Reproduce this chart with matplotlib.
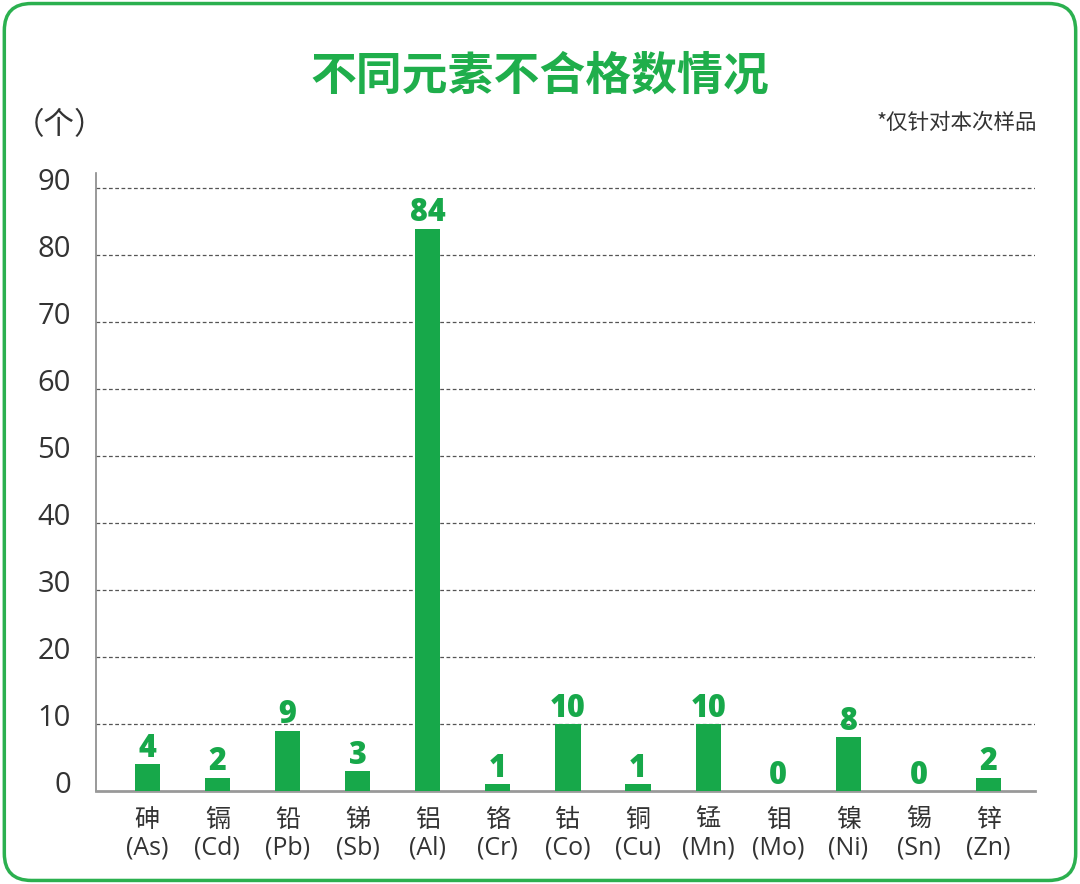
import matplotlib
matplotlib.use("Agg")
import matplotlib.pyplot as plt
from matplotlib.patches import FancyBboxPatch
from matplotlib.transforms import ScaledTranslation

plt.rcParams['font.family'] = ['Open Sans', 'Noto Sans CJK SC', 'DejaVu Sans']

elements = ["砷", "镉", "铅", "锑", "铝", "铬", "钴", "铜", "锰", "钼", "镍", "锡", "锌"]
symbols = ["As", "Cd", "Pb", "Sb", "Al", "Cr", "Co", "Cu", "Mn", "Mo", "Ni", "Sn", "Zn"]
counts = [4, 2, 9, 3, 84, 1, 10, 1, 10, 0, 8, 0, 2]
yticks = [0, 10, 20, 30, 40, 50, 60, 70, 80, 90]

title = "不同元素不合格数情况"
unit = "（个）"
note = "*仅针对本次样品"

GREEN = "#17a84a"
TXT = "#333333"

fig = plt.figure(figsize=(10.8, 8.84), dpi=100)
fig.patch.set_facecolor("white")

border = FancyBboxPatch((0.004, 0.004), 0.992, 0.992,
                        boxstyle="round,pad=0,rounding_size=0.025",
                        transform=fig.transFigure, fill=False,
                        edgecolor="#2bb04f", linewidth=2.5, mutation_aspect=1080/884)
fig.patches.append(border)

ax = fig.add_axes([96/1080, 1 - 791/884, (1035 - 96)/1080, (791 - 173)/884])
x = list(range(len(counts)))
ax.bar(x, counts, width=0.36, color=GREEN, zorder=3)
for xi, v in zip(x, counts):
    ax.text(xi, v - 0.1, str(v), ha="center", va="bottom", fontsize=22,
            fontweight=800, color=GREEN, family=["Open Sans"], zorder=4)

ax.set_xlim(-0.73, 12.66)
ax.set_ylim(0, 92.3)
ax.set_yticks(yticks)
ax.set_yticklabels([str(t) for t in yticks], fontsize=21, color=TXT)
ax.tick_params(axis="y", length=0, pad=18)
off = ScaledTranslation(0, 9/100, fig.dpi_scale_trans)
for lab in ax.get_yticklabels():
    lab.set_transform(lab.get_transform() + off)
ax.set_xticks(x)
ax.set_xticklabels([f"{e}\n({s})" for e, s in zip(elements, symbols)],
                   fontsize=18, color=TXT, linespacing=1.15)
ax.tick_params(axis="x", length=0, pad=12)

for t in yticks[1:]:
    ax.axhline(t, color="#555555", linewidth=0.9, linestyle=(0, (3, 2)), zorder=1)

for s in ["top", "right"]:
    ax.spines[s].set_visible(False)
ax.spines["left"].set_color("#888888")
ax.spines["left"].set_linewidth(1.2)
ax.spines["bottom"].set_color("#999999")
ax.spines["bottom"].set_linewidth(2)

fig.text(0.5, 1 - 76/884, title, ha="center", va="center", fontsize=33,
         fontweight="black", color="#1fae4b", family=["Noto Sans CJK SC"])
fig.text(14/1080, 1 - 126/884, unit, ha="left", va="center", fontsize=22, color=TXT,
         family=["Noto Sans CJK SC"])
fig.text(1037/1080, 1 - 123/884, note, ha="right", va="center", fontsize=15.5, color=TXT,
         family=["Noto Sans CJK SC"])

fig.savefig("out.png", dpi=100)
